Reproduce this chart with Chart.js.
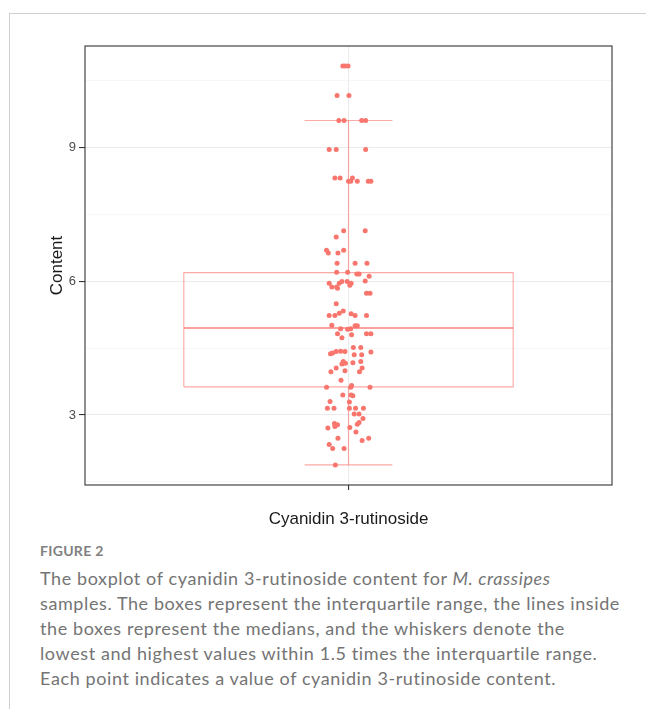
<!DOCTYPE html>
<html>
<head>
<meta charset="utf-8">
<script src="https://cdn.jsdelivr.net/npm/chart.js@4.4.1/dist/chart.umd.min.js"></script>
<style>
  html, body { margin: 0; padding: 0; background: #ffffff; }
  body { width: 646px; height: 709px; position: relative; overflow: hidden; }
  #frame { position: absolute; left: 9px; top: 13px; right: 0; bottom: 0;
           border-left: 1px solid #cfcfcf; border-top: 1px solid #cfcfcf; }
  #chart { position: absolute; left: 0; top: 0; }
  #fig { position: absolute; left: 40px; top: 542px; font-family: Lato, "Open Sans", sans-serif;
         font-size: 14px; font-weight: 700; color: #808080; letter-spacing: 0.3px; }
  #cap { position: absolute; left: 40px; top: 566px; width: 606px; font-family: Lato, "Open Sans", sans-serif;
         font-size: 18px; line-height: 25px; color: #747474; letter-spacing: 0.6px; }
  #cap div { white-space: nowrap; }
</style>
</head>
<body>
<div id="frame"></div>
<canvas id="chart" width="646" height="540"></canvas>
<div id="fig">FIGURE 2</div>
<div id="cap">
  <div>The boxplot of cyanidin 3-rutinoside content for <i>M. crassipes</i></div>
  <div>samples. The boxes represent the interquartile range, the lines inside</div>
  <div>the boxes represent the medians, and the whiskers denote the</div>
  <div>lowest and highest values within 1.5 times the interquartile range.</div>
  <div>Each point indicates a value of cyanidin 3-rutinoside content.</div>
</div>
<script>
// ---- data ----
const categories = ["Cyanidin 3-rutinoside"];
const yTickValues = [1.5, 3, 4.5, 6, 7.5, 9, 10.5];
const yTickLabels = ["", "3", "", "6", "", "9", ""];

// box statistics
const lowerWhisker = [1.88];
const q1Values = [3.63];
const medianValues = [4.95];
const q3Values = [6.19];
const upperWhisker = [9.60];

// jittered points: content values and horizontal jitter offsets
const pointValues = [
  10.82, 10.82, 10.82, 10.16, 10.16, 9.60, 9.60, 9.60, 9.60, 8.95,
  8.95, 8.95, 8.31, 8.31, 8.31, 8.24, 8.24, 8.24, 8.24, 8.24,
  7.13, 7.13, 6.99, 6.69, 6.63, 6.63, 6.69, 6.40, 6.40, 6.40,
  6.20, 6.20, 6.16, 6.16, 6.11, 6.00, 5.95, 5.87, 5.87, 5.95,
  5.99, 5.99, 5.91, 5.95, 5.84, 5.73, 5.73, 5.49, 5.23, 5.23,
  5.28, 5.33, 5.27, 5.23, 5.23, 5.01, 4.93, 4.92, 4.93, 5.00,
  5.00, 4.82, 4.73, 4.80, 4.82, 4.82, 4.37, 4.39, 4.42, 4.43,
  4.42, 4.51, 4.51, 4.35, 4.35, 4.41, 4.20, 4.16, 4.14, 4.17,
  4.20, 3.97, 4.05, 3.99, 3.97, 4.05, 3.78, 3.66, 3.62, 3.62,
  3.62, 3.45, 3.45, 3.43, 3.30, 3.29, 3.15, 3.15, 3.15, 3.15,
  3.15, 3.02, 3.02, 2.92, 2.81, 2.78, 2.74, 2.71, 2.72, 2.79,
  2.83, 2.62, 2.48, 2.43, 2.48, 2.34, 2.25, 2.25, 1.88
];
const pointJitter = [
  -0.013, -0.008, -0.001, -0.026, 0.001, -0.022, -0.010, 0.030, 0.039, -0.044,
  -0.028, 0.039, -0.031, -0.019, 0.009, 0.000, 0.005, 0.020, 0.045, 0.051,
  -0.011, 0.038, -0.028, -0.050, -0.046, -0.024, -0.011, -0.026, 0.015, 0.042,
  -0.027, -0.002, 0.019, 0.024, 0.047, 0.038, -0.044, -0.038, -0.027, -0.021,
  -0.015, -0.003, 0.003, 0.006, -0.025, 0.041, 0.049, -0.028, -0.044, -0.031,
  -0.021, -0.012, 0.006, 0.015, 0.041, -0.038, -0.018, -0.002, 0.005, 0.015,
  0.020, -0.025, -0.015, 0.007, 0.041, 0.051, -0.041, -0.036, -0.028, -0.018,
  -0.008, 0.011, 0.028, 0.013, 0.030, 0.051, -0.012, -0.007, -0.015, 0.010,
  0.028, -0.040, -0.028, -0.008, 0.025, 0.031, -0.017, 0.007, -0.050, 0.005,
  0.049, -0.013, 0.006, 0.010, -0.042, 0.002, -0.048, -0.033, 0.002, 0.016,
  0.034, 0.013, 0.024, 0.033, -0.032, -0.025, -0.031, -0.047, 0.003, 0.020,
  0.024, 0.017, -0.024, 0.031, 0.046, -0.044, -0.036, -0.010, -0.030
];

// ---- styling constants ----
const catPos = 1;          // position of the single category on the x scale
const boxHalf = 0.375;     // half box width (x units)
const capHalf = 0.1;       // half whisker cap width
const RED = "#F8766D";
const BOX = "rgba(248,118,109,0.62)";
const MED = "rgba(248,118,109,0.9)";
const GRID = "#EBEBEB";

const i = 0;
const boxPoly = [
  {x: catPos - boxHalf, y: q1Values[i]}, {x: catPos + boxHalf, y: q1Values[i]},
  {x: catPos + boxHalf, y: q3Values[i]}, {x: catPos - boxHalf, y: q3Values[i]},
  {x: catPos - boxHalf, y: q1Values[i]}
];
const lineDs = (data, color, width) => ({
  type: "scatter", data, showLine: true, borderColor: color, borderWidth: width,
  pointRadius: 0, pointHoverRadius: 0, fill: false, tension: 0
});

const datasets = [
  lineDs([{x: catPos, y: q3Values[i]}, {x: catPos, y: upperWhisker[i]}], BOX, 1.1),
  lineDs([{x: catPos, y: q1Values[i]}, {x: catPos, y: lowerWhisker[i]}], BOX, 1.1),
  lineDs([{x: catPos - capHalf, y: upperWhisker[i]}, {x: catPos + capHalf, y: upperWhisker[i]}], BOX, 1.1),
  lineDs([{x: catPos - capHalf, y: lowerWhisker[i]}, {x: catPos + capHalf, y: lowerWhisker[i]}], BOX, 1.1),
  lineDs(boxPoly, BOX, 1.1),
  lineDs([{x: catPos - boxHalf, y: medianValues[i]}, {x: catPos + boxHalf, y: medianValues[i]}], MED, 1.6),
  {
    type: "scatter",
    data: pointValues.map((v, k) => ({x: catPos + pointJitter[k], y: v})),
    backgroundColor: RED, borderWidth: 0, pointRadius: 2.5, pointHoverRadius: 2.5
  }
];

const panelBorder = {
  id: "panelBorder",
  afterDatasetsDraw(chart) {
    const a = chart.chartArea, ctx = chart.ctx;
    ctx.save();
    ctx.strokeStyle = "#333333";
    ctx.lineWidth = 1.1;
    ctx.strokeRect(a.left, a.top, a.right - a.left, a.bottom - a.top);
    ctx.restore();
  }
};

new Chart(document.getElementById("chart"), {
  type: "scatter",
  data: { datasets },
  plugins: [panelBorder],
  options: {
    responsive: false,
    devicePixelRatio: 1,
    animation: false,
    events: [],
    layout: { padding: { left: 0, right: 34, top: 46, bottom: 0 } },
    plugins: { legend: { display: false }, tooltip: { enabled: false } },
    scales: {
      x: {
        type: "linear", min: 0.4, max: 1.6,
        afterBuildTicks: s => { s.ticks = [{value: catPos}]; },
        afterFit: s => { s.height = 55; },
        ticks: {
          callback: () => categories[0],
          color: "#1a1a1a", padding: 19, maxRotation: 0,
          font: { family: "'Liberation Sans', Arial, sans-serif", size: 17 }
        },
        grid: { color: GRID, lineWidth: 1.1, tickColor: "#333333", tickLength: 5, drawTicks: true },
        border: { display: false }
      },
      y: {
        type: "linear", min: 1.43, max: 11.27,
        afterBuildTicks: s => { s.ticks = yTickValues.map(v => ({value: v})); },
        afterFit: s => { s.width = 85; },
        ticks: {
          callback: (v, idx) => yTickLabels[idx],
          color: "#4d4d4d", padding: 3,
          font: { family: "'Liberation Sans', Arial, sans-serif", size: 13 }
        },
        grid: {
          color: c => (yTickLabels[c.index] ? GRID : "#F2F2F2"),
          lineWidth: c => (yTickLabels[c.index] ? 1.1 : 0.6),
          tickColor: c => (yTickLabels[c.index] ? "#333333" : "rgba(0,0,0,0)"),
          tickLength: 6, drawTicks: true
        },
        border: { display: false },
        title: {
          display: true, text: "Content", color: "#1a1a1a",
          padding: { top: 47, bottom: 0 },
          font: { family: "'Liberation Sans', Arial, sans-serif", size: 17 }
        }
      }
    }
  }
});
</script>
</body>
</html>
